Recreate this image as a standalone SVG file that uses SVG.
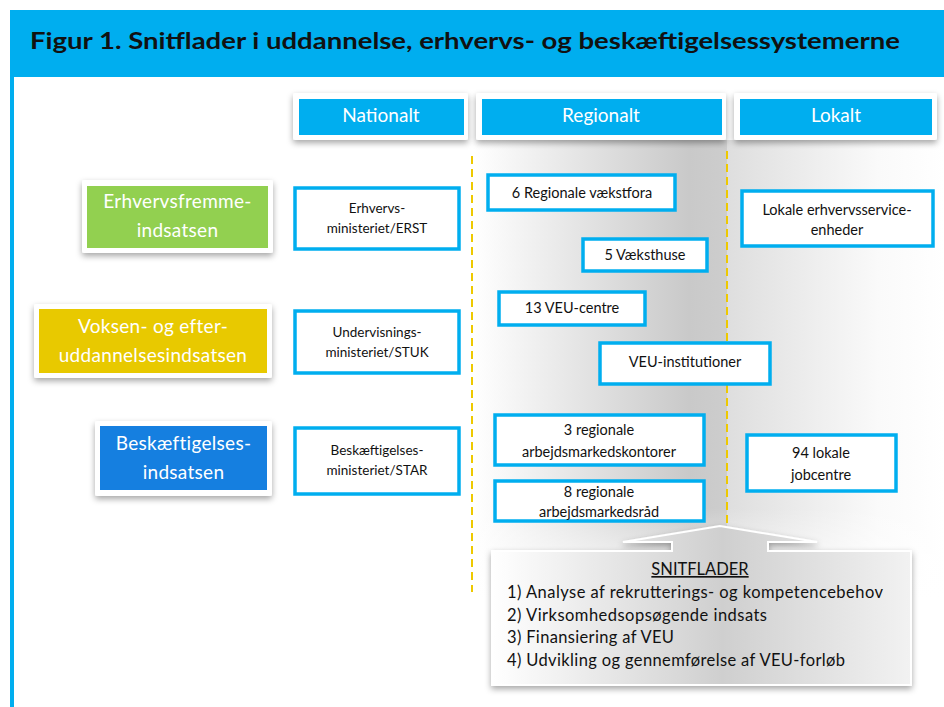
<svg xmlns="http://www.w3.org/2000/svg" width="944" height="707" viewBox="0 0 944 707">
<style>
.box{fill:#fff;stroke:#00AEEF;stroke-width:3.5}
.t{font-family:Lato,"Liberation Sans",sans-serif;fill:#111;text-anchor:middle}
.s{font-size:13.5px}
.r{font-size:14.5px}
.h{font-family:Lato,"Liberation Sans",sans-serif;fill:#fff;font-size:19px;text-anchor:middle}
.cat{font-family:Lato,"Liberation Sans",sans-serif;fill:#fff;font-size:19px;text-anchor:middle;letter-spacing:0.3px}
.c{font-family:Lato,"Liberation Sans",sans-serif;fill:#111;font-size:16.5px}
.dash{stroke:#EEC900;stroke-width:2;stroke-dasharray:8 5;fill:none}
</style>
<defs>
<filter id="sh" x="-10%" y="-20%" width="120%" height="150%">
<feDropShadow dx="0" dy="3" stdDeviation="3" flood-color="#000" flood-opacity="0.35"/>
</filter>
<linearGradient id="bgL" x1="0" y1="0" x2="1" y2="0">
<stop offset="0" stop-color="#fff"/>
<stop offset="0.85" stop-color="#c9c9c9"/>
<stop offset="1" stop-color="#cdcdcd"/>
</linearGradient>
<linearGradient id="bgR" x1="0" y1="0" x2="1" y2="0">
<stop offset="0" stop-color="#dedede"/>
<stop offset="0.7" stop-color="#fafafa"/>
<stop offset="1" stop-color="#fff"/>
</linearGradient>
<linearGradient id="bgV" x1="0" y1="0" x2="0" y2="1">
<stop offset="0" stop-color="#fff" stop-opacity="0"/>
<stop offset="0.8" stop-color="#fff" stop-opacity="0"/>
<stop offset="1" stop-color="#fff" stop-opacity="1"/>
</linearGradient>
<linearGradient id="cg" x1="492" y1="0" x2="911" y2="0" gradientUnits="userSpaceOnUse">
<stop offset="0" stop-color="#fff"/>
<stop offset="0.55" stop-color="#cfcfcf"/>
<stop offset="1" stop-color="#f2f2f2"/>
</linearGradient>
</defs>
<rect width="944" height="707" fill="#fff"/>
<!-- background shading -->
<rect x="474" y="140" width="253" height="460" fill="url(#bgL)"/>
<rect x="727" y="140" width="217" height="460" fill="url(#bgR)"/>
<rect x="474" y="140" width="470" height="460" fill="url(#bgV)"/>
<!-- title -->
<g id="title">
<rect x="10" y="10" width="934" height="67" fill="#00AEEF"/>
<rect x="10" y="77" width="4" height="630" fill="#00AEEF"/>
<text x="30" y="49" font-family="Lato,'Liberation Sans',sans-serif" font-weight="bold" font-size="22" fill="#111" textLength="870" lengthAdjust="spacingAndGlyphs">Figur 1. Snitflader i uddannelse, erhvervs- og beskæftigelsessystemerne</text>
</g>
<!-- column headers -->
<g id="h-nationalt">
<rect x="293" y="93" width="175" height="47" fill="#fff" rx="2" filter="url(#sh)"/>
<rect x="299" y="99" width="165" height="36" fill="#00AEEF"/>
<text class="h" x="381" y="122">Nationalt</text>
</g>
<g id="h-regionalt">
<rect x="476" y="93" width="250" height="47" fill="#fff" rx="2" filter="url(#sh)"/>
<rect x="482" y="99" width="240" height="36" fill="#00AEEF"/>
<text class="h" x="601" y="122">Regionalt</text>
</g>
<g id="h-lokalt">
<rect x="734" y="93" width="203" height="47" fill="#fff" rx="2" filter="url(#sh)"/>
<rect x="740" y="99" width="192" height="36" fill="#00AEEF"/>
<text class="h" x="836" y="122">Lokalt</text>
</g>
<!-- dashed separators -->
<g id="connectors">
<line class="dash" x1="472" y1="156" x2="472" y2="592"/>
<line class="dash" x1="727" y1="151" x2="727" y2="527"/>
</g>
<!-- category boxes -->
<g id="erhvervsfremme">
<rect x="82" y="180" width="191" height="73" fill="#fff" rx="2" filter="url(#sh)"/>
<rect x="87" y="186" width="181" height="62" fill="#92D050"/>
<text class="cat" x="177.5" y="208">Erhvervsfremme-</text>
<text class="cat" x="177.5" y="237">indsatsen</text>
</g>
<g id="voksen">
<rect x="34" y="304" width="238" height="74" fill="#fff" rx="2" filter="url(#sh)"/>
<rect x="39" y="309" width="228" height="64" fill="#E8C900"/>
<text class="cat" x="153" y="333">Voksen- og efter-</text>
<text class="cat" x="153" y="362">uddannelsesindsatsen</text>
</g>
<g id="beskaeftigelse">
<rect x="95" y="421" width="177" height="75" fill="#fff" rx="2" filter="url(#sh)"/>
<rect x="100" y="426" width="167" height="64" fill="#157FE0"/>
<text class="cat" x="183.5" y="450">Beskæftigelses-</text>
<text class="cat" x="183.5" y="479">indsatsen</text>
</g>
<!-- national -->
<g id="erst">
<rect class="box" x="295" y="188" width="164" height="61"/>
<text class="t s" x="377" y="213">Erhvervs-</text>
<text class="t s" x="377" y="233">ministeriet/ERST</text>
</g>
<g id="stuk">
<rect class="box" x="295" y="311" width="164" height="62"/>
<text class="t s" x="377" y="337">Undervisnings-</text>
<text class="t s" x="377" y="357">ministeriet/STUK</text>
</g>
<g id="star">
<rect class="box" x="295" y="428" width="164" height="66"/>
<text class="t s" x="377" y="455">Beskæftigelses-</text>
<text class="t s" x="377" y="475">ministeriet/STAR</text>
</g>
<!-- regional -->
<g id="vaekstfora">
<rect class="box" x="488" y="175" width="187" height="35"/>
<text class="t r" x="582" y="198">6 Regionale vækstfora</text>
</g>
<g id="vaeksthuse">
<rect class="box" x="583" y="239" width="124" height="32"/>
<text class="t r" x="645" y="260">5 Væksthuse</text>
</g>
<g id="veu-centre">
<rect class="box" x="499" y="292" width="146" height="33"/>
<text class="t r" x="572" y="313">13 VEU-centre</text>
</g>
<g id="veu-inst">
<rect class="box" x="600" y="343" width="170" height="41"/>
<text class="t r" x="685" y="367">VEU-institutioner</text>
</g>
<g id="arbejdsmarkedskontorer">
<rect class="box" x="495" y="415" width="209" height="50"/>
<text class="t r" x="599" y="435">3 regionale</text>
<text class="t r" x="599" y="457">arbejdsmarkedskontorer</text>
</g>
<g id="arbejdsmarkedsraad">
<rect class="box" x="495" y="481" width="209" height="40"/>
<text class="t r" x="599" y="497">8 regionale</text>
<text class="t r" x="599" y="517">arbejdsmarkedsråd</text>
</g>
<!-- local -->
<g id="erhvervsservice">
<rect class="box" x="742" y="191" width="191" height="55"/>
<text class="t r" x="837" y="215">Lokale erhvervsservice-</text>
<text class="t r" x="837" y="235">enheder</text>
</g>
<g id="jobcentre">
<rect class="box" x="747" y="435" width="149" height="56"/>
<text class="t r" x="821" y="458">94 lokale</text>
<text class="t r" x="821" y="480">jobcentre</text>
</g>
<!-- callout -->
<g id="snitflader">
<path d="M492,551 H672 V542 H623 L720,526 L817,542 H768 V551 H911 V685 H492 Z" fill="url(#cg)" stroke="#fff" stroke-width="2" filter="url(#sh)"/>
<text class="c" x="700" y="575" text-anchor="middle" text-decoration="underline">SNITFLADER</text>
<text class="c" x="507" y="598" textLength="376" lengthAdjust="spacing">1) Analyse af rekrutterings- og kompetencebehov</text>
<text class="c" x="507" y="621" textLength="260" lengthAdjust="spacing">2) Virksomhedsopsøgende indsats</text>
<text class="c" x="507" y="643" textLength="167" lengthAdjust="spacing">3) Finansiering af VEU</text>
<text class="c" x="507" y="666" textLength="338" lengthAdjust="spacing">4) Udvikling og gennemførelse af VEU-forløb</text>
</g>
</svg>
